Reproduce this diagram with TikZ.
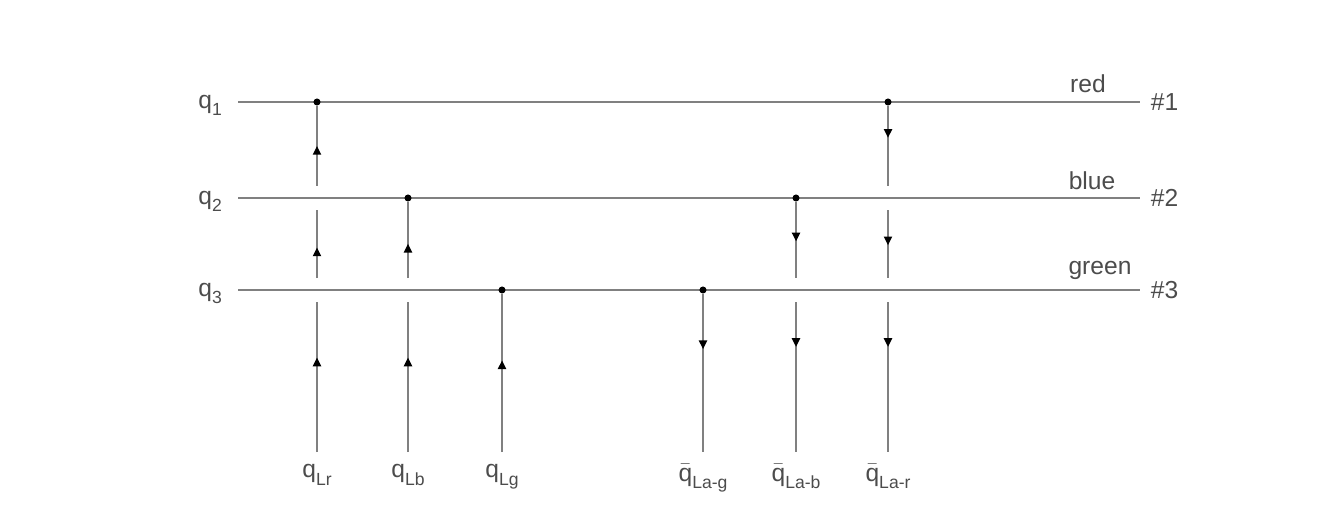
\documentclass[tikz,border=0pt]{standalone}
\usepackage{fontspec}
\setmainfont{Liberation Sans}
\usetikzlibrary{calc,decorations.markings,arrows.meta}

\definecolor{linegray}{gray}{0.5}
\definecolor{textgray}{gray}{0.3}
\newcommand{\lowsub}[1]{\raisebox{-0.55ex}{\fontsize{10}{12}\selectfont #1}}

\tikzset{
  hline/.style={linegray, line width=1.4pt},
  quark/.style={linegray, line width=1.4pt},
  arr/.style={postaction={decorate}, decoration={markings,
      mark=at position #1 with {\arrow[black]{Triangle[length=5pt,width=4.5pt]}}}},
  vertex/.style={circle, fill=black, inner sep=0pt, minimum size=4pt},
  lbl/.style={textgray, font=\fontsize{14}{16}\selectfont, inner sep=1pt}
}

\begin{document}
\begin{tikzpicture}[x=0.02cm, y=-0.02cm]
  \useasboundingbox (0,0) rectangle (1327,513);

  % colour lines
  \foreach \i/\y in {1/102, 2/198, 3/290} {
    \coordinate (a\i) at (238,\y);
    \coordinate (b\i) at (1140,\y);
    \node[lbl, anchor=east, xshift=-8pt, yshift=-2pt] (q\i) at (a\i) {q\lowsub{\i}};
    \node[lbl, anchor=west, xshift=5pt] (n\i) at (b\i) {\#\i};
    \draw[hline] (a\i) -- (b\i);
  }
  \node[lbl, anchor=base] (red) at (1088,93) {red};
  \node[lbl, anchor=base] (blue) at (1092,190) {blue};
  \node[lbl, anchor=base] (green) at (1100,274) {green};

  % quark ends
  \foreach \n/\x/\t in {Lr/317/q\lowsub{Lr}, Lb/408/q\lowsub{Lb},
      Lg/502/q\lowsub{Lg}, Lag/703/$\bar{\mbox{q}}$\lowsub{La-g},
      Lab/796/$\bar{\mbox{q}}$\lowsub{La-b}, Lar/888/$\bar{\mbox{q}}$\lowsub{La-r}} {
    \coordinate (e\n) at (\x,452);
    \node[lbl, anchor=north, yshift=-6pt] (\n) at (e\n) {\t};
  }

  % vertices
  \node[vertex] (vLr) at (eLr |- a1) {};
  \node[vertex] (vLb) at (eLb |- a2) {};
  \node[vertex] (vLg) at (eLg |- a3) {};
  \node[vertex] (vLag) at (eLag |- a3) {};
  \node[vertex] (vLab) at (eLab |- a2) {};
  \node[vertex] (vLar) at (eLar |- a1) {};

  % quarks going up
  \draw[quark, arr=0.63] (eLr) -- ($(eLr |- a3)+(0,12)$);
  \draw[quark, arr=0.45] ($(eLr |- a3)+(0,-12)$) -- ($(eLr |- a2)+(0,12)$);
  \draw[quark, arr=0.5] ($(eLr |- a2)+(0,-12)$) -- (vLr);
  \draw[quark, arr=0.63] (eLb) -- ($(eLb |- a3)+(0,12)$);
  \draw[quark, arr=0.45] ($(eLb |- a3)+(0,-12)$) -- (vLb);
  \draw[quark, arr=0.58] (eLg) -- (vLg);

  % antiquarks going down
  \draw[quark, arr=0.35] (vLag) -- (eLag);
  \draw[quark, arr=0.52] (vLab) -- ($(eLab |- a3)+(0,-12)$);
  \draw[quark, arr=0.3] ($(eLab |- a3)+(0,12)$) -- (eLab);
  \draw[quark, arr=0.4] (vLar) -- ($(eLar |- a2)+(0,-12)$);
  \draw[quark, arr=0.52] ($(eLar |- a2)+(0,12)$) -- ($(eLar |- a3)+(0,-12)$);
  \draw[quark, arr=0.3] ($(eLar |- a3)+(0,12)$) -- (eLar);
\end{tikzpicture}
\end{document}
